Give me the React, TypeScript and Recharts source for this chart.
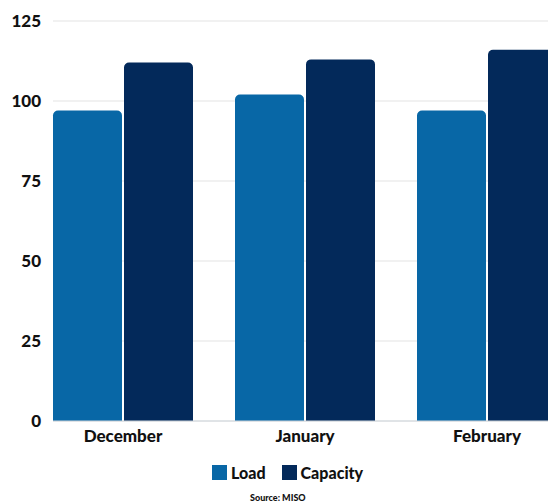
import React from "react";
import { BarChart, Bar, XAxis, YAxis, CartesianGrid, Legend } from "recharts";

const months = ["December", "January", "February"];
const loadValues = [97, 102, 97];
const capacityValues = [112, 113, 116];
const yTicks = [0, 25, 50, 75, 100, 125];
const seriesNames = ["Load", "Capacity"];
const seriesColors = ["#0867A6", "#03295A"];
const sourceText = "Source: MISO";

const data = months.map((m, i) => ({
  month: m,
  Load: loadValues[i],
  Capacity: capacityValues[i],
}));

const FONT = "Lato, 'DejaVu Sans', sans-serif";

const LegendContent = (props: any) => {
  const payload = [...(props.payload || [])].sort(
    (a: any, b: any) => seriesNames.indexOf(a.value) - seriesNames.indexOf(b.value)
  );
  return (
    <div style={{ position: "relative", height: 42, fontFamily: FONT }}>
      <div
        style={{
          position: "absolute",
          left: 212,
          top: 0,
          height: 22,
          display: "flex",
          alignItems: "center",
        }}
      >
        {payload.map((p: any, i: number) => (
          <div key={i} style={{ display: "flex", alignItems: "center", marginRight: i === 0 ? 16 : 0 }}>
            <div style={{ width: 15, height: 15, background: p.color, marginRight: 4 }} />
            <span style={{ fontSize: 16, fontWeight: 900, color: "#111" }}>{p.value}</span>
          </div>
        ))}
      </div>
      <div
        style={{
          position: "absolute",
          left: 250,
          top: 31,
          fontSize: 9,
          fontWeight: 900,
          color: "#111",
          whiteSpace: "nowrap",
        }}
      >
        {sourceText}
      </div>
    </div>
  );
};

export default function App() {
  return (
    <div
      style={{
        position: "fixed",
        left: 0,
        top: 0,
        width: 548,
        height: 503,
        overflow: "hidden",
        background: "#fff",
      }}
    >
      <BarChart
        width={557}
        height={503}
        data={data}
        margin={{ top: 21, right: 0, left: 0, bottom: 0 }}
        barCategoryGap={21}
        barGap={2}
      >
        <CartesianGrid vertical={false} stroke="#e3e3e3" />
        <XAxis
          dataKey="month"
          padding={{ left: -21, right: -21 }}
          height={40}
          tickLine={false}
          tickSize={0}
          tickMargin={9}
          axisLine={{ stroke: "#cfd6dc" }}
          tick={{ fontSize: 17, fontWeight: 900, fill: "#111", fontFamily: FONT }}
        />
        <YAxis
          width={53}
          domain={[0, 125]}
          ticks={yTicks}
          interval={0}
          axisLine={false}
          tickLine={false}
          tickSize={0}
          tickMargin={12}
          tick={{ fontSize: 17, fontWeight: 900, fill: "#111", fontFamily: FONT }}
        />
        <Legend verticalAlign="bottom" height={42} content={<LegendContent />} />
        <Bar
          dataKey={seriesNames[0]}
          name={seriesNames[0]}
          fill={seriesColors[0]}
          radius={[5, 5, 0, 0]}
          isAnimationActive={false}
        />
        <Bar
          dataKey={seriesNames[1]}
          name={seriesNames[1]}
          fill={seriesColors[1]}
          radius={[5, 5, 0, 0]}
          isAnimationActive={false}
        />
      </BarChart>
    </div>
  );
}
